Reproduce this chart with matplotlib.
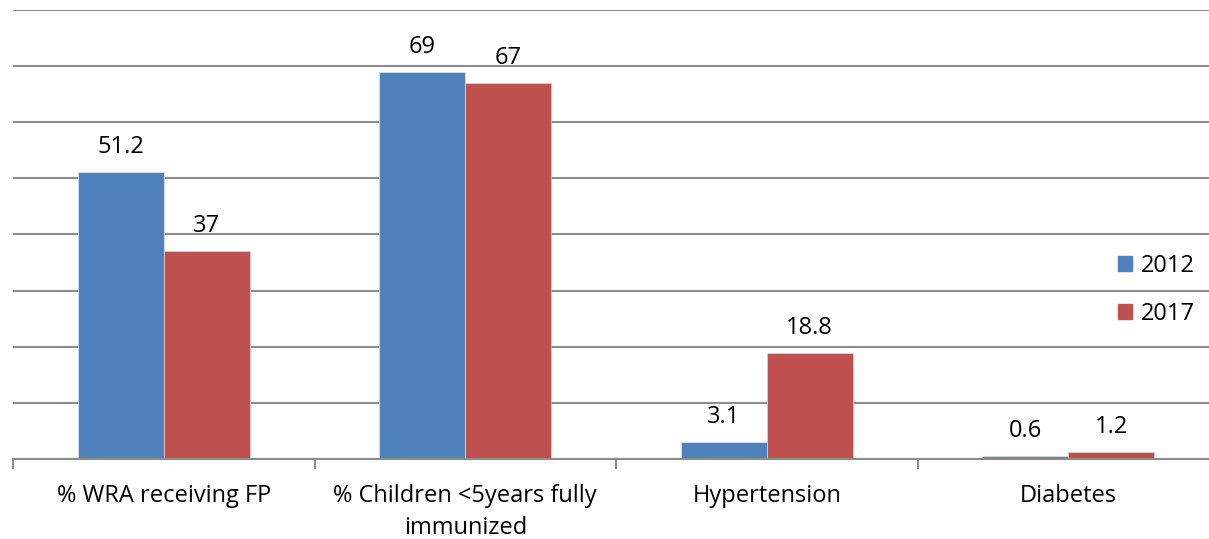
import numpy as np
import matplotlib.pyplot as plt
from matplotlib.patches import Patch

categories = ['% WRA receiving FP', '% Children <5years fully\nimmunized', 'Hypertension', 'Diabetes']
years = ['2012', '2017']
vals_2012 = [51.2, 69, 3.1, 0.6]
vals_2017 = [37, 67, 18.8, 1.2]
labels_2012 = ['51.2', '69', '3.1', '0.6']
labels_2017 = ['37', '67', '18.8', '1.2']

blue = '#4F81BD'
red = '#C0504D'
grid = '#8C8C8C'

plt.rcParams['font.family'] = ['Open Sans', 'DejaVu Sans']

fig = plt.figure(figsize=(12.09, 5.39), dpi=100)
ax = fig.add_axes([13/1209, 80/539, 1206/1209, 449/539])

x = np.arange(len(categories))
w = 0.285
b1 = ax.bar(x - w/2, vals_2012, w, color=blue, edgecolor='#D8E2EF', linewidth=0.6, zorder=3)
b2 = ax.bar(x + w/2, vals_2017, w, color=red, edgecolor='#EBC9C8', linewidth=0.6, zorder=3)

for bars, labs in ((b1, labels_2012), (b2, labels_2017)):
    for r, lab in zip(bars, labs):
        ax.annotate(lab, (r.get_x() + r.get_width()/2, r.get_height()),
                    xytext=(0, 18), textcoords='offset points', ha='center', va='center',
                    fontsize=17, color='black')

ax.set_xlim(-0.5, 3.5)
ax.set_ylim(0, 80)
ax.set_yticks(np.arange(0, 81, 10))
ax.yaxis.grid(True, color=grid, linewidth=1.5, zorder=0)
ax.tick_params(axis='y', left=False, labelleft=False)

ax.set_xticks(x)
ax.set_xticklabels(categories, fontsize=17, linespacing=1.45)
ax.tick_params(axis='x', which='major', length=0, pad=18)
ax.set_xticks(np.arange(-0.5, 3.6, 1), minor=True)
ax.tick_params(axis='x', which='minor', length=7, width=1.5, color=grid)

for s in ['top', 'right', 'left']:
    ax.spines[s].set_visible(False)
ax.spines['bottom'].set_color(grid)
ax.spines['bottom'].set_linewidth(1.5)
ax.spines['bottom'].set_zorder(4)

handles = [Patch(color=blue, label=years[0]), Patch(color=red, label=years[1])]
fig.legend(handles=handles, loc='center left', bbox_to_anchor=(1097/1209, 1 - 290/539),
           frameon=False, fontsize=17, handlelength=0.6, handleheight=0.6,
           handletextpad=0.35, labelspacing=1.0)

fig.savefig('out.png', dpi=100)
